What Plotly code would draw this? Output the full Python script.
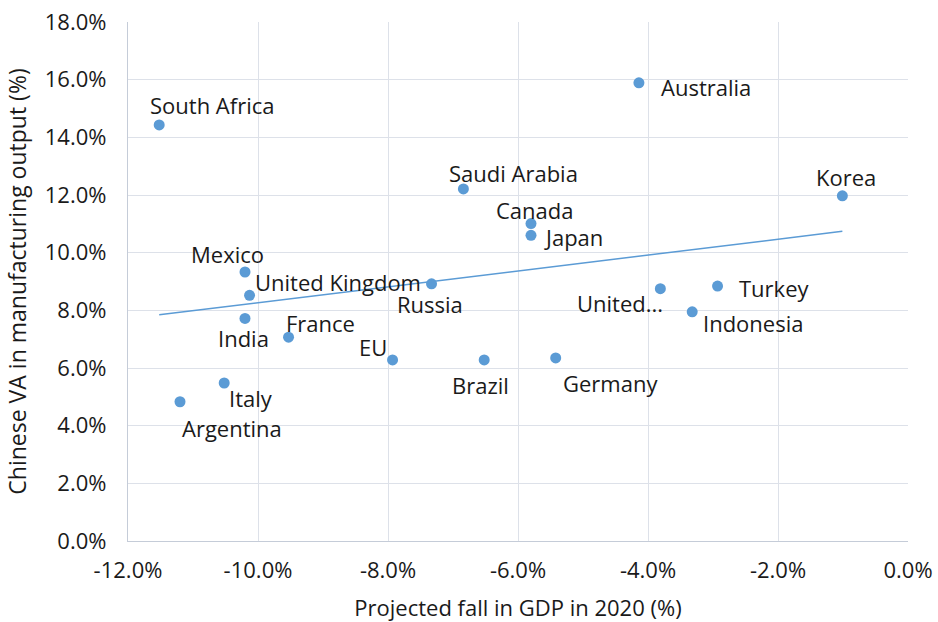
import numpy as np
import plotly.graph_objects as go

countries = ["South Africa", "Australia", "Saudi Arabia", "Korea", "Canada", "Japan",
             "Mexico", "United Kingdom", "India", "France", "EU", "Italy", "Argentina",
             "Russia", "Brazil", "Germany", "United States", "Turkey", "Indonesia"]
gdp_fall = [-0.1152, -0.0414, -0.0684, -0.0101, -0.0580, -0.0580,
            -0.1020, -0.1013, -0.1020, -0.0953, -0.0793, -0.1052, -0.1120,
            -0.0733, -0.0652, -0.0542, -0.0381, -0.0293, -0.0332]
china_va = [0.1443, 0.1589, 0.1221, 0.1197, 0.1101, 0.1060,
            0.0933, 0.0852, 0.0772, 0.0707, 0.0628, 0.0548, 0.0483,
            0.0892, 0.0628, 0.0635, 0.0875, 0.0884, 0.0795]
display_labels = ["South Africa", "Australia", "Saudi Arabia", "Korea", "Canada", "Japan",
                  "Mexico", "United Kingdom", "India", "France", "EU", "Italy", "Argentina",
                  "Russia", "Brazil", "Germany", "United...", "Turkey", "Indonesia"]
x_tick_vals = [-0.12, -0.10, -0.08, -0.06, -0.04, -0.02, 0.0]
x_tick_text = ["-12.0%", "-10.0%", "-8.0%", "-6.0%", "-4.0%", "-2.0%", "0.0%"]

# label placement: (xanchor, xshift, yshift)
label_pos = [("left", -11, 20), ("left", 20, -4), ("left", -16, 16), ("center", 4, 19),
             ("center", 3, 14), ("left", 11, -2),
             ("center", -18, 18), ("left", 3, 13), ("center", -2, -20), ("left", -5, 14),
             ("right", -4, 13), ("left", 3, -15), ("left", 0, -26),
             ("center", -2, -20), ("center", -4, -25), ("left", 5, -25), ("right", 5, -14),
             ("left", 19, -2), ("left", 9, -11)]

font_family = "Open Sans"
blue = "#5B9BD5"
grid = "#DDE1E9"
axis_line = "#C5CCD8"
text_color = "#1a1a1a"

fig = go.Figure()
fig.add_trace(go.Scatter(x=gdp_fall, y=china_va, mode="markers",
                         marker=dict(color=blue, size=11), showlegend=False,
                         hoverinfo="skip"))

slope, intercept = np.polyfit(gdp_fall, china_va, 1)
xs = [min(gdp_fall), max(gdp_fall)]
fig.add_trace(go.Scatter(x=xs, y=[slope * v + intercept for v in xs], mode="lines",
                         line=dict(color=blue, width=1.5), showlegend=False,
                         hoverinfo="skip"))

for name, x, y, (anc, dx, dy) in zip(display_labels, gdp_fall, china_va, label_pos):
    fig.add_annotation(x=x, y=y, text=name, showarrow=False, xanchor=anc,
                       yanchor="middle", xshift=dx, yshift=dy,
                       font=dict(family=font_family, size=22, color=text_color))

fig.update_layout(
    width=938, height=622,
    margin=dict(l=128, r=30, t=22, b=81),
    plot_bgcolor="white", paper_bgcolor="white",
    font=dict(family=font_family, size=22, color=text_color),
    xaxis=dict(range=[-0.12, 0], tickvals=x_tick_vals, ticktext=x_tick_text,
               showgrid=True, gridcolor=grid, gridwidth=1.3,
               zeroline=False, showline=True, linecolor=axis_line, linewidth=1.3,
               ticks="", ticklabelstandoff=9, ticklabeloverflow="allow",
               tickfont=dict(size=22), automargin=False,
               title=dict(text="Projected fall in GDP in 2020 (%)", standoff=26,
                          font=dict(size=22))),
    yaxis=dict(range=[0, 0.18], dtick=0.02, tickformat=".1%",
               showgrid=True, gridcolor=grid, gridwidth=1.3,
               zeroline=False, showline=True, linecolor=axis_line, linewidth=1.3,
               ticks="", ticklabelstandoff=16, ticklabeloverflow="allow",
               tickfont=dict(size=22), automargin=False,
               title=dict(text="Chinese VA in manufacturing output (%)", standoff=11,
                          font=dict(size=23))),
)

fig.write_html("out.html", config={"displayModeBar": False},
               post_script="document.body.style.margin='0';"
                           "document.documentElement.style.overflow='hidden';")
